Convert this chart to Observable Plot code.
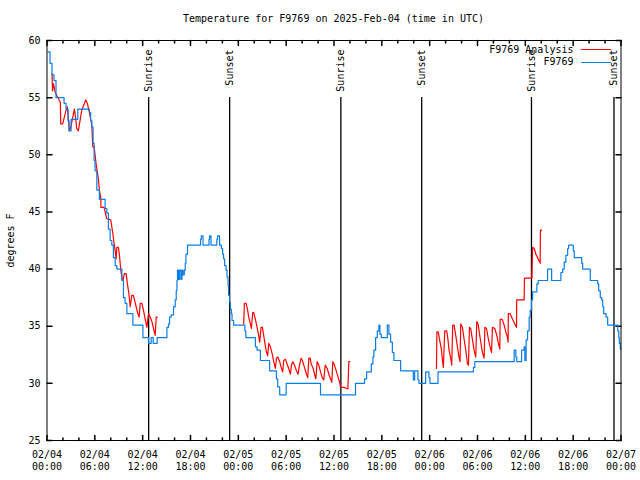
<!DOCTYPE html>
<html><head><meta charset="utf-8">
<script src="https://cdn.jsdelivr.net/npm/d3@7"></script>
<script src="https://cdn.jsdelivr.net/npm/@observablehq/plot@0.6"></script>
<style>
body{margin:0;background:#fff;}
#title{height:30px;width:640px;box-sizing:border-box;padding:13px 19.5px 0 46.5px;text-align:center;font:10px "DejaVu Sans Mono",monospace;line-height:12px;color:#000;}
#chart svg{display:block;}
</style></head><body>
<div id="title">Temperature for F9769 on 2025-Feb-04 (time in UTC)</div>
<div id="chart"></div>
<script>
const startMs = Date.UTC(2025, 1, 4);
const seriesNames = ["F9769 Analysis", "F9769"];
const seriesColors = ["#ff0000", "#0a7de6"];

// Observed (F9769), hours since 02/04 00:00 UTC; value holds until next point
const blueHours = [0.13,0.38,0.63,0.88,1.13,2.14,2.39,2.64,2.76,3.02,3.86,5.32,5.47,5.62,5.78,5.91,6.03,6.25,6.57,7.29,7.50,7.70,7.92,8.13,8.33,8.55,8.76,9.39,9.59,9.80,10.02,10.77,12.03,12.73,13.07,13.32,13.82,15.04,15.24,15.37,15.58,15.87,16.08,16.21,16.30,16.37,16.50,16.62,16.80,16.93,17.05,17.22,17.34,17.43,17.63,19.26,19.35,19.57,20.32,20.39,20.57,21.30,21.40,21.65,21.87,22.03,22.15,22.28,22.46,22.58,22.71,22.78,22.91,23.00,23.12,23.21,23.41,24.82,24.94,26.14,26.35,26.77,27.93,28.78,28.94,29.19,30.00,34.31,38.70,39.83,40.09,40.68,40.88,41.00,41.22,41.43,41.63,41.76,41.93,42.69,42.89,43.10,43.32,43.52,44.36,45.95,46.12,46.53,46.66,47.50,47.91,48.04,49.05,53.49,53.66,58.60,58.81,58.93,59.53,59.85,59.94,60.10,60.28,60.48,60.61,60.78,60.91,61.45,61.61,62.79,63.30,64.46,64.68,64.88,65.09,65.31,65.43,66.01,66.14,67.07,67.19,68.15,69.08,69.20,69.40,69.58,69.71,69.83,70.12,70.33,71.59,71.72,71.79,71.92,72.00];
const blueTemps = [59.0,58.0,57.0,56.5,55.0,54.5,54.0,53.0,52.1,53.1,54.0,53.7,53.0,52.4,51.0,49.5,48.6,46.9,46.1,45.3,44.9,43.5,42.5,42.1,41.0,40.3,40.0,39.0,37.5,37.0,36.1,35.1,34.0,33.5,34.0,33.5,34.0,34.9,35.2,35.8,36.0,36.7,37.3,38.1,39.0,39.9,39.1,39.9,39.1,39.9,39.5,39.9,40.5,41.3,42.1,42.6,42.9,42.1,42.6,42.9,42.1,42.6,42.9,42.1,41.8,41.3,40.9,40.3,39.9,39.3,38.6,37.7,37.1,36.5,36.1,35.5,35.1,34.6,34.0,33.2,32.9,32.0,31.1,30.4,29.7,29.0,30.0,29.0,30.0,30.4,31.0,31.7,32.3,32.9,34.0,34.6,35.1,34.3,34.0,35.1,34.3,33.6,32.7,32.0,31.1,30.3,31.1,30.3,30.0,31.0,30.5,30.0,31.0,31.4,31.9,32.9,32.3,31.9,32.9,33.2,32.0,33.8,34.6,35.8,36.4,37.3,38.0,38.7,39.0,40.0,39.0,39.7,40.0,40.6,41.2,41.8,42.1,41.6,41.0,40.5,40.0,39.0,38.7,38.1,37.5,37.3,36.7,36.1,35.8,35.1,34.6,34.0,33.5,33.0,33.0];

// Analysis (F9769 Analysis); null = no analysis (gap)
const redHours = [0.63,0.69,0.82,1.01,1.67,1.72,1.97,2.39,2.55,2.70,2.80,2.98,3.43,3.56,3.73,3.93,4.36,4.86,5.06,5.32,5.62,5.74,5.91,6.16,6.45,6.57,6.75,6.76,7.16,7.50,8.00,8.26,8.42,8.55,8.67,8.76,8.96,9.09,9.26,9.39,9.53,9.71,9.93,10.09,10.22,10.34,10.43,10.64,10.84,11.15,11.35,11.56,11.69,11.90,12.10,12.32,12.53,12.73,12.94,13.16,13.36,13.57,13.70,13.86,
  null,
  24.67,24.76,24.97,25.17,25.30,25.51,25.64,25.80,25.92,26.14,26.35,26.55,26.68,26.85,27.02,27.18,27.31,27.48,27.68,27.81,28.02,28.24,28.44,28.65,28.78,28.94,29.19,29.37,29.57,29.69,29.91,30.12,30.32,30.54,30.66,30.83,31.04,31.29,31.50,31.67,31.88,32.04,32.21,32.42,32.55,32.71,32.84,33.01,33.14,33.39,33.55,33.72,33.89,34.09,34.31,34.52,34.72,34.90,35.15,35.35,35.56,35.73,35.85,36.06,36.32,36.53,36.73,36.82,37.45,37.74,37.86,37.99,
  null,
  48.85,48.91,49.07,49.30,49.47,49.60,49.72,49.89,50.14,50.30,50.43,50.64,50.77,50.89,51.06,51.27,51.48,51.68,51.81,51.90,52.11,52.31,52.53,52.74,52.87,52.99,53.15,53.37,53.57,53.78,53.91,54.07,54.20,54.41,54.62,54.83,54.92,55.13,55.33,55.54,55.76,55.88,56.17,56.42,56.59,56.80,56.84,57.11,57.34,57.55,57.77,57.84,57.87,58.09,58.40,58.68,58.90,58.91,59.85,59.89,60.82,60.91,61.11,61.32,61.54,61.74,61.86,61.89,62.04];
const redTemps = [57.1,55.6,56.2,55.5,54.6,52.7,52.7,53.9,54.2,53.0,52.1,52.4,54.0,53.4,52.3,52.1,53.9,54.8,54.5,53.7,52.6,50.7,50.7,49.2,47.9,46.9,46.2,45.4,45.4,44.4,44.3,43.1,42.2,41.6,40.9,41.9,41.9,41.2,39.9,39.3,39.0,39.6,39.6,38.7,38.1,37.4,36.7,37.7,37.7,36.8,36.2,35.8,37.0,37.0,36.4,35.6,34.9,36.1,35.8,35.4,34.8,34.2,35.8,35.8,
  null,
  35.2,37.0,37.0,36.4,35.8,35.2,34.8,36.2,36.2,35.6,34.9,34.2,33.6,34.9,34.9,34.2,33.6,32.9,32.4,33.5,33.2,32.6,31.9,31.3,32.2,32.3,31.9,31.4,31.0,32.0,32.1,31.7,31.3,30.8,31.6,31.9,31.6,31.1,30.8,31.6,32.2,32.0,31.6,31.1,30.8,30.5,32.2,32.2,31.7,31.3,30.8,30.4,31.9,31.6,31.0,30.5,30.3,31.6,31.3,30.8,30.4,30.1,31.9,31.6,31.0,30.5,30.0,29.7,29.6,29.5,31.9,31.9,
  null,
  31.3,34.5,34.5,33.6,33.0,32.0,31.4,34.6,34.6,33.8,32.9,32.2,31.6,35.1,35.1,34.2,33.2,32.3,31.9,35.2,34.9,33.9,32.9,31.7,31.6,34.9,34.8,33.8,32.9,32.3,35.4,35.2,34.6,33.6,32.7,32.2,34.9,34.8,34.0,33.3,32.7,34.9,34.8,34.2,33.6,33.0,35.6,35.6,35.1,34.5,34.0,33.6,36.1,36.1,35.6,35.2,34.9,37.3,37.3,39.2,39.2,41.9,41.8,41.3,41.0,40.7,40.5,43.4,43.4];

const sunHours = [12.75, 22.91, 36.86, 47.0, 60.77, 71.12];
const sunLabels = ["Sunrise", "Sunset", "Sunrise", "Sunset", "Sunrise", "Sunset"];

const yTicks = [25, 30, 35, 40, 45, 50, 55, 60];
const xMajorHours = [0, 6, 12, 18, 24, 30, 36, 42, 48, 54, 60, 66, 72];
const xMinorHours = [2, 4, 8, 10, 14, 16, 20, 22, 26, 28, 32, 34, 38, 40, 44, 46, 50, 52, 56, 58, 62, 64, 68, 70];

const toDate = h => h == null ? null : new Date(startMs + h * 3600e3);
const blue = blueHours.map((h, i) => ({date: toDate(h), temp: blueTemps[i]}));
const red = redHours.map((h, i) => ({date: toDate(h), temp: redTemps[i]}));
const sun = sunHours.map((h, i) => ({date: toDate(h), label: sunLabels[i]}));
const xMajor = xMajorHours.map(toDate);
const xMinor = xMinorHours.map(toDate);
const fmt = d3.utcFormat("%m/%d\n%H:%M");

const seg = {draw(ctx, l) { ctx.moveTo(0, 0); ctx.lineTo(0, -l); }};
const font = "DejaVu Sans Mono";

const chart = Plot.plot({
  width: 640,
  height: 450,
  marginLeft: 46.5,
  marginRight: 19.5,
  marginTop: 10,
  marginBottom: 40,
  style: {fontFamily: font, fontSize: "10px", background: "#fff", color: "#000"},
  x: {type: "utc", domain: [toDate(0), toDate(72)]},
  y: {domain: [25, 60]},
  marks: [
    Plot.axisX(xMajor, {tickSize: 0, tickPadding: 9, tickFormat: fmt, lineHeight: 1.2, fontSize: 10}),
    Plot.axisY(yTicks, {tickSize: 0, tickPadding: 6.5, label: "degrees F", labelAnchor: "center", labelArrow: "none", labelOffset: 40, fontSize: 10}),
    // inward ticks on all four sides
    Plot.vectorX(xMajor, {frameAnchor: "bottom", anchor: "start", length: 5, shape: seg, stroke: "black"}),
    Plot.vectorX(xMinor, {frameAnchor: "bottom", anchor: "start", length: 2.5, shape: seg, stroke: "black"}),
    Plot.vectorX(xMajor, {frameAnchor: "top", anchor: "start", length: 5, rotate: 180, shape: seg, stroke: "black"}),
    Plot.vectorX(xMinor, {frameAnchor: "top", anchor: "start", length: 2.5, rotate: 180, shape: seg, stroke: "black"}),
    Plot.vectorY(yTicks, {frameAnchor: "left", anchor: "start", length: 5, rotate: 90, shape: seg, stroke: "black"}),
    Plot.vectorY(yTicks, {frameAnchor: "right", anchor: "start", length: 5, rotate: -90, shape: seg, stroke: "black"}),
    // sunrise / sunset markers
    Plot.ruleX(sun, {x: "date", insetTop: 57, stroke: "black", strokeWidth: 1.3}),
    Plot.text(sun, {x: "date", text: "label", frameAnchor: "top", rotate: -90, textAnchor: "end", lineAnchor: "middle", dy: 9, fill: "black", fontSize: 10}),
    // data
    Plot.line(red, {x: "date", y: "temp", stroke: seriesColors[0], strokeWidth: 1.2}),
    Plot.line(blue, {x: "date", y: "temp", stroke: seriesColors[1], strokeWidth: 1.2, curve: "step-after"}),
    // legend
    Plot.text([seriesNames[0]], {frameAnchor: "top-right", dx: -47.5, dy: 9, textAnchor: "end", lineAnchor: "middle", fill: "black", fontSize: 10}),
    Plot.text([seriesNames[1]], {frameAnchor: "top-right", dx: -47.5, dy: 21.5, textAnchor: "end", lineAnchor: "middle", fill: "black", fontSize: 10}),
    Plot.vector([seriesNames[0]], {frameAnchor: "top-right", dx: -10.5, dy: 9, anchor: "start", rotate: -90, length: 29, shape: seg, stroke: seriesColors[0], strokeWidth: 1.2}),
    Plot.vector([seriesNames[1]], {frameAnchor: "top-right", dx: -10.5, dy: 22, anchor: "start", rotate: -90, length: 29, shape: seg, stroke: seriesColors[1], strokeWidth: 1.2}),
    Plot.frame({stroke: "black", strokeWidth: 1})
  ]
});
document.getElementById("chart").appendChild(chart);
</script>
</body></html>
